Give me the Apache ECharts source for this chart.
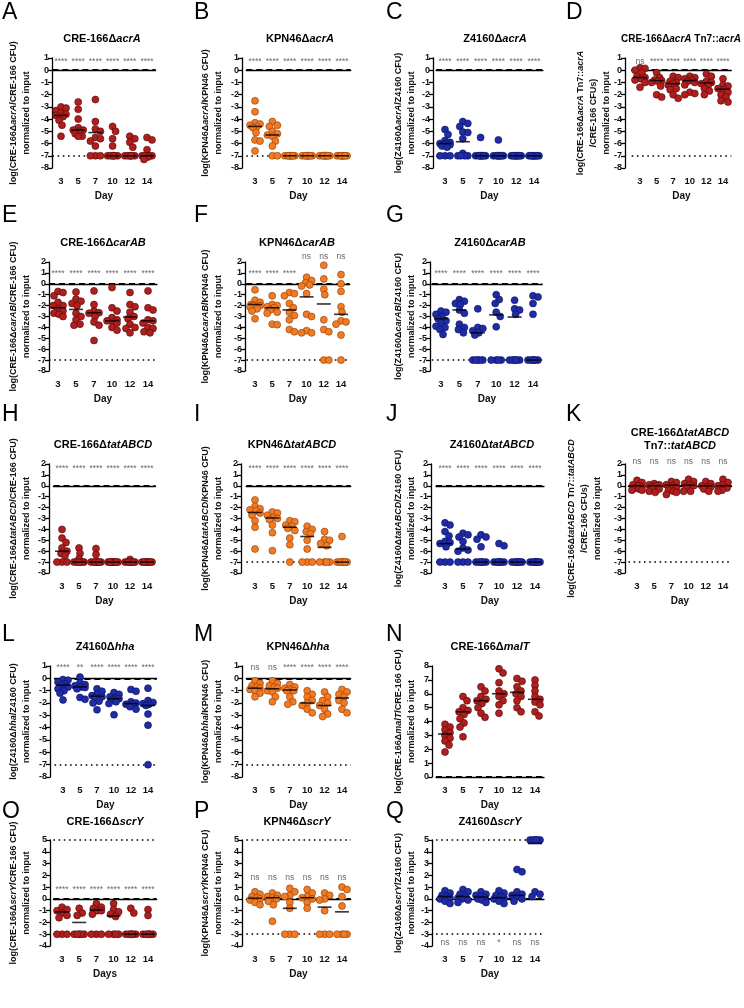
<!DOCTYPE html>
<html><head><meta charset="utf-8">
<script src="https://cdn.jsdelivr.net/npm/echarts@6/dist/echarts.min.js"></script>
<style>html,body{margin:0;padding:0;background:#fff}#c{width:744px;height:1008px}</style>
</head><body><div id="c"></div>
<script>
const DAYS = ['3','5','7','10','12','14'];

// ---- data (log ratios per day) ----
const A_values = [
  [-3.0,-3.1,-3.3,-3.5,-3.6,-3.7,-3.8,-4.1,-4.5,-5.4],
  [-2.6,-3.2,-4.0,-4.7,-4.9,-4.9,-5.0,-5.2,-5.4,-5.4],
  [-2.4,-4.2,-4.8,-5.0,-5.5,-5.6,-5.8,-6.2,-7,-7,-7],
  [-4.6,-5.0,-5.6,-6.2,-7,-7,-7,-7,-7,-7],
  [-5.4,-5.6,-5.9,-6.3,-7,-7,-7,-7,-7,-7],
  [-5.5,-5.7,-6.5,-7,-7,-7,-7,-7,-7.1,-7.3]];
const A_lines = [-3.7,-4.9,-5.1,-7,-7,-7];
const A_sig = ['****','****','****','****','****','****'];

const B_values = [
  [-2.5,-3.4,-4.3,-4.4,-4.5,-4.6,-4.7,-5.1,-5.7,-5.8,-6.6],
  [-4.2,-4.5,-4.6,-5.0,-5.2,-5.3,-5.4,-5.8,-6.2,-7,-7],
  [-7,-7,-7,-7,-7,-7,-7,-7],
  [-7,-7,-7,-7,-7,-7,-7,-7],
  [-7,-7,-7,-7,-7,-7,-7,-7],
  [-7,-7,-7,-7,-7,-7,-7,-7]];
const B_lines = [-4.6,-5.3,-7,-7,-7,-7];
const B_sig = ['****','****','****','****','****','****'];

const C_values = [
  [-4.85,-5.25,-5.75,-5.9,-6.0,-6.0,-6.05,-6.1,-6.2,-6.3,-7,-7,-7],
  [-4.2,-4.35,-4.6,-5.05,-5.1,-5.6,-6.8,-7,-7,-7,-7],
  [-5.5,-7,-7,-7,-7,-7,-7,-7,-7],
  [-5.7,-7,-7,-7,-7,-7,-7,-7,-7],
  [-7,-7,-7,-7,-7,-7,-7,-7,-7],
  [-7,-7,-7,-7,-7,-7,-7,-7,-7]];
const C_lines = [-6.0,-5.85,-7,-7,-7,-7];
const C_sig = ['****','****','****','****','****','****'];

const D_values = [
  [0.2,0.15,0.0,-0.2,-0.5,-0.6,-0.7,-0.8,-1.0,-1.4],
  [-0.2,-0.6,-0.8,-0.85,-0.9,-1.0,-1.3,-2.0,-2.2],
  [-0.5,-0.6,-0.9,-1.0,-1.1,-1.2,-1.5,-1.6,-2.0,-2.3],
  [-0.5,-0.6,-0.7,-0.8,-0.9,-1.0,-1.2,-1.8,-1.9,-2.0],
  [-0.3,-0.5,-0.9,-1.0,-1.1,-1.2,-1.5,-1.7,-2.0],
  [-0.7,-1.2,-1.3,-1.5,-1.6,-1.8,-2.0,-2.2,-2.5,-2.6]];
const D_lines = [-0.6,-0.85,-1.1,-0.85,-1.05,-1.55];
const D_sig = ['ns','****','****','****','****','****'];

const E_values = [
  [-0.7,-0.8,-1.1,-1.7,-2.0,-2.0,-2.3,-2.5,-2.7,-2.8,-3.0],
  [-0.75,-1.4,-1.6,-1.8,-2.0,-2.7,-3.0,-3.3,-3.7,-3.8],
  [-0.65,-1.9,-2.5,-2.65,-2.7,-3.0,-3.5,-3.8,-5.2],
  [-0.35,-2.2,-2.5,-3.1,-3.3,-3.4,-3.5,-3.6,-4.0,-4.25],
  [-0.8,-1.9,-2.1,-2.6,-3.0,-3.2,-3.7,-4.0,-4.1,-4.5],
  [-0.65,-2.2,-2.4,-3.3,-3.4,-3.6,-4.0,-4.1,-4.4,-4.5]];
const E_lines = [-2.2,-2.35,-2.65,-3.4,-3.05,-3.4];
const E_sig = ['****','****','****','****','****','****'];

const F_values = [
  [-0.55,-1.5,-1.7,-1.9,-1.95,-2.0,-2.0,-2.1,-2.3,-2.5,-3.2],
  [-1.1,-1.9,-2.0,-2.1,-2.2,-2.4,-2.6,-2.7,-3.7,-3.75],
  [-0.8,-0.9,-1.1,-1.8,-2.2,-2.6,-2.9,-3.3,-4.2,-4.4],
  [0.6,0.3,0.1,-0.1,-0.2,-0.9,-2.8,-3.0,-4.3,-4.5,-4.5],
  [1.7,0.45,-0.5,-1.0,-3.3,-4.2,-4.4,-7,-7],
  [0.85,0.0,-0.7,-2.1,-2.6,-3.4,-3.5,-3.7,-4.7,-7]];
const F_lines = [-1.9,-2.2,-2.4,-1.2,-1.85,-2.8];
const F_sig = ['****','****','****','ns','ns','ns'];

const G_values = [
  [-2.5,-2.6,-2.8,-3.0,-3.2,-3.4,-3.6,-3.9,-4.0,-4.2,-4.65],
  [-1.45,-1.6,-1.8,-1.9,-2.4,-2.7,-3.7,-4.0,-4.2,-4.5],
  [-2.3,-4.0,-4.1,-4.3,-4.5,-4.7,-7,-7,-7,-7,-7],
  [-1.0,-1.45,-1.8,-2.6,-3.0,-3.95,-7,-7,-7,-7],
  [-1.5,-2.3,-2.4,-2.8,-7,-7,-7,-7,-7,-7],
  [-1.1,-1.2,-1.8,-2.8,-7,-7,-7,-7,-7,-7]];
const G_lines = [-3.2,-2.4,-4.5,-2.85,-3.05,-7];
const G_sig = ['****','****','****','****','****','****'];

const H_values = [
  [-4.0,-4.8,-5.2,-5.7,-6.0,-6.2,-6.4,-7,-7,-7],
  [-5.7,-6.2,-6.7,-7,-7,-7,-7,-7,-7],
  [-5.75,-6.3,-7,-7,-7,-7,-7,-7,-7,-7],
  [-7,-7,-7,-7,-7,-7,-7,-7,-7],
  [-6.75,-7,-7,-7,-7,-7,-7,-7,-7],
  [-7,-7,-7,-7,-7,-7,-7,-7,-7]];
const H_lines = [-6.0,-7,-7,-7,-7,-7];
const H_sig = ['****','****','****','****','****','****'];

const I_values = [
  [-1.3,-1.9,-2.1,-2.2,-2.3,-2.5,-2.7,-3.2,-3.8,-5.8],
  [-2.4,-2.5,-2.7,-2.9,-3.0,-3.1,-3.6,-4.3,-5.95],
  [-3.2,-3.3,-3.6,-3.7,-3.9,-4.1,-4.8,-5.4,-7],
  [-3.7,-4.0,-4.2,-4.4,-5.0,-5.8,-7,-7,-7],
  [-4.2,-4.9,-5.0,-5.3,-5.5,-7,-7,-7,-7],
  [-4.65,-7,-7,-7,-7,-7,-7,-7,-7]];
const I_lines = [-2.45,-2.95,-3.8,-4.65,-5.65,-7];
const I_sig = ['****','****','****','****','****','****'];

const J_values = [
  [-3.4,-3.6,-4.2,-4.6,-5.1,-5.2,-5.3,-5.6,-7,-7,-7],
  [-4.35,-4.5,-4.7,-5.1,-5.7,-5.9,-6.0,-7,-7,-7],
  [-4.5,-4.7,-4.9,-5.6,-7,-7,-7,-7,-7,-7],
  [-5.3,-5.5,-7,-7,-7,-7,-7,-7,-7],
  [-7,-7,-7,-7,-7,-7,-7,-7],
  [-7,-7,-7,-7,-7,-7,-7,-7]];
const J_lines = [-5.3,-5.8,-7,-7,-7,-7];
const J_sig = ['****','****','****','****','****','****'];

const K_values = [
  [0.5,0.3,0.1,0.0,-0.1,-0.2,-0.3,-0.4,-0.4],
  [0.2,0.1,0.1,0.0,-0.1,-0.3,-0.5,-0.6],
  [0.4,0.3,0.1,0.0,-0.2,-0.4,-0.5,-0.6,-0.8],
  [0.6,0.4,0.2,0.1,0.0,-0.1,-0.5,-0.5],
  [0.4,0.2,0.0,-0.1,-0.1,-0.3,-0.5],
  [0.6,0.3,0.1,0.0,-0.2,-0.4,-0.5]];
const K_lines = [0,0,0.05,0.05,0,0];
const K_sig = ['ns','ns','ns','ns','ns','ns'];

const L_values = [
  [-0.1,-0.15,-0.3,-0.45,-0.5,-0.7,-0.85,-1.0,-1.2,-1.75],
  [0.1,-0.35,-0.5,-0.6,-0.7,-0.75,-0.85,-1.55,-1.7],
  [-0.85,-1.05,-1.3,-1.4,-1.5,-1.55,-1.85,-2.0,-2.55],
  [-1.15,-1.3,-1.5,-1.6,-1.65,-1.75,-1.9,-2.05,-2.95],
  [-0.9,-1.05,-1.9,-2.0,-2.1,-2.1,-2.3,-2.5],
  [-0.8,-1.8,-1.95,-2.05,-2.1,-2.2,-2.9,-3.8,-7.0]];
const L_lines = [-0.55,-0.7,-1.45,-1.65,-2.05,-2.2];
const L_sig = ['****','**','****','****','****','****'];

const M_values = [
  [-0.2,-0.4,-0.6,-0.7,-0.8,-0.9,-1.0,-1.2,-1.5],
  [-0.2,-0.4,-0.6,-0.7,-0.8,-1.0,-1.1,-1.5,-1.9],
  [-0.5,-0.7,-0.8,-0.9,-1.0,-1.0,-1.5,-1.9,-2.1],
  [-1.0,-1.3,-1.5,-1.8,-2.0,-2.2,-2.5,-2.8],
  [-1.1,-1.5,-1.8,-2.0,-2.2,-2.5,-2.9,-3.1],
  [-0.9,-1.1,-1.3,-1.5,-1.8,-2.0,-2.5,-2.8]];
const M_lines = [-0.8,-0.85,-0.95,-2.0,-2.2,-1.6];
const M_sig = ['ns','ns','****','****','****','****'];

const N_values = [
  [3.8,3.6,3.4,3.2,3.0,2.8,2.6,2.3,1.8],
  [5.8,5.5,5.0,4.8,4.7,4.5,4.2,3.9,3.6,2.9],
  [6.5,6.2,5.8,5.6,5.5,5.3,5.0,4.6,4.3],
  [7.8,7.5,6.8,6.2,6.0,5.8,5.5,5.2,4.6],
  [7.1,6.9,6.5,6.2,6.0,5.8,5.5,5.0,4.7],
  [7.0,6.6,6.2,5.8,5.6,5.4,5.2,4.7,4.4]];
const N_lines = [3.1,4.7,5.5,6.0,6.1,5.6];
const N_sig = [];

const O_values = [
  [-0.7,-0.9,-1.0,-1.2,-1.4,-1.6,-3,-3,-3],
  [-0.8,-1.2,-1.4,-3,-3,-3,-3,-3],
  [-0.4,-0.7,-0.8,-1.0,-1.0,-1.3,-3,-3,-3],
  [-0.4,-0.9,-1.1,-1.3,-1.5,-3,-3,-3,-3],
  [-0.8,-1.2,-3,-3,-3,-3,-3,-3],
  [-0.9,-1.4,-3,-3,-3,-3,-3,-3]];
const O_lines = [-1.1,-2.0,-0.95,-1.45,-3,-3];
const O_sig = ['****','****','****','****','****','****'];

const P_values = [
  [0.6,0.4,0.2,0.1,0.0,-0.1,-0.3,-0.5],
  [0.5,0.3,0.2,0.1,0.0,-0.2,-0.5,-1.9],
  [0.9,0.6,0.3,0.2,-0.3,-0.8,-3,-3,-3],
  [0.8,0.5,0.2,0.1,0.0,-0.3,-0.8],
  [0.5,0.3,0.0,-0.1,-1.0,-3,-3,-3],
  [1.0,0.8,0.2,-0.6,-3,-3,-3,-3]];
const P_lines = [0.05,0.1,-0.8,0.1,-0.7,-1.1];
const P_sig = ['ns','ns','ns','ns','ns','ns'];

const Q_values = [
  [0.7,0.5,0.3,0.2,0.1,0.0,-0.2,-0.4],
  [0.8,0.6,0.4,0.2,0.1,0.0,-0.1,-0.3],
  [0.6,0.4,0.3,0.2,0.1,0.0,-0.1,-0.3],
  [0.7,0.5,0.3,0.2,0.1,0.0,-0.2,-0.4],
  [2.5,2.3,0.6,0.4,0.3,0.2,0.0,-0.2],
  [5,5,5,5,5,5,0.6,0.4,0.2]];
const Q_lines = [0.2,0.2,0.15,0.1,0.3,4.7];
const Q_sig = ['ns','ns','ns','*','ns','ns'];

// ---- layout ----
const RED = '#b01e1e', ORANGE = '#f27a22', BLUE = '#1f2ca6';
const BORDER = {};
BORDER[RED] = '#4d0a0a'; BORDER[ORANGE] = '#8a3e0c'; BORDER[BLUE] = '#0a1060';
const ROWS = [
  {top:58, bot:168, ty:39, ly:1},
  {top:262, bot:371, ty:243, ly:204},
  {top:464, bot:573, ty:445, ly:403},
  {top:666, bot:777, ty:647, ly:623},
  {top:840, bot:946, ty:822, ly:800}];
const YCX = [20, 212, 405, 594];
const LX = [2, 194, 386, 566];
const NORM = 'normalized to input';
const LOW = {dashed:[0], dotted:[-7]};
const SCR = {dashed:[0], dotted:[5,-3]};

const panels = [
 {L:'A',row:0,col:0,c0:61,c5:147,yax:52,tx:102,color:RED,vals:A_values,lines:A_lines,sig:A_sig,sigY:0.7,ymin:-8,ymax:1,ref:LOW,
  title:'CRE-166Δ{i|acrA}', ytl:['log(CRE-166Δ{i|acrA}/CRE-166 CFU)',NORM]},
 {L:'B',row:0,col:1,c0:255,c5:342,yax:242,tx:300,color:ORANGE,vals:B_values,lines:B_lines,sig:B_sig,sigY:0.7,ymin:-8,ymax:1,ref:LOW,
  title:'KPN46Δ{i|acrA}', ytl:['log(KPN46Δ{i|acrA}/KPN46 CFU)',NORM]},
 {L:'C',row:0,col:2,c0:445,c5:534,yax:433,tx:495,color:BLUE,vals:C_values,lines:C_lines,sig:C_sig,sigY:0.7,ymin:-8,ymax:1,ref:LOW,
  title:'Z4160Δ{i|acrA}', ytl:['log(Z4160Δ{i|acrA}/Z4160 CFU)',NORM]},
 {L:'D',row:0,col:3,c0:640,c5:723,yax:625,tx:681,tfs:10,color:RED,vals:D_values,lines:D_lines,sig:D_sig,sigY:0.7,ymin:-8,ymax:1,ref:LOW,
  title:'CRE-166Δ{i|acrA} Tn7::{i|acrA}', ytl:['log(CRE-166Δ{i|acrA} Tn7::{i|acrA}','/CRE-166 CFUs)',NORM]},
 {L:'E',row:1,col:0,c0:58,c5:148,yax:50,tx:103,color:RED,vals:E_values,lines:E_lines,sig:E_sig,sigY:0.95,ymin:-8,ymax:2,ref:LOW,
  title:'CRE-166Δ{i|carAB}', ytl:['log(CRE-166Δ{i|carAB}/CRE-166 CFU)',NORM]},
 {L:'F',row:1,col:1,c0:255,c5:341,yax:245,tx:297,color:ORANGE,vals:F_values,lines:F_lines,sig:F_sig,sigY:[0.95,0.95,0.95,2.5,2.5,2.5],ymin:-8,ymax:2,ref:LOW,
  title:'KPN46Δ{i|carAB}', ytl:['log(KPN46Δ{i|carAB}/KPN46 CFU)',NORM]},
 {L:'G',row:1,col:2,c0:441,c5:533,yax:430,tx:490,color:BLUE,vals:G_values,lines:G_lines,sig:G_sig,sigY:0.95,ymin:-8,ymax:2,ref:LOW,
  title:'Z4160Δ{i|carAB}', ytl:['log(Z4160Δ{i|carAB}/Z4160 CFU)',NORM]},
 {L:'H',row:2,col:0,c0:62,c5:147,yax:49,tx:103,color:RED,vals:H_values,lines:H_lines,sig:H_sig,sigY:1.6,ymin:-8,ymax:2,ref:LOW,
  title:'CRE-166Δ{i|tatABCD}', ytl:['log(CRE-166Δ{i|tatABCD}/CRE-166 CFU)',NORM]},
 {L:'I',row:2,col:1,c0:255,c5:342,yax:241,tx:292,color:ORANGE,vals:I_values,lines:I_lines,sig:I_sig,sigY:1.6,ymin:-8,ymax:2,ref:LOW,
  title:'KPN46Δ{i|tatABCD}', ytl:['log(KPN46Δ{i|tatABCD}/KPN46 CFU)',NORM]},
 {L:'J',row:2,col:2,c0:445,c5:535,yax:431,tx:492,color:BLUE,vals:J_values,lines:J_lines,sig:J_sig,sigY:1.6,ymin:-8,ymax:2,ref:LOW,
  title:'Z4160Δ{i|tatABCD}', ytl:['log(Z4160Δ{i|tatABCD}/Z4160 CFU)',NORM]},
 {L:'K',row:2,col:3,c0:637,c5:723,yax:625,tx:680,ycx:585,color:RED,vals:K_values,lines:K_lines,sig:K_sig,sigY:2.25,ymin:-8,ymax:2,ref:LOW,
  title:'CRE-166Δ{i|tatABCD}\nTn7::{i|tatABCD}', ytl:['log(CRE-166Δ{i|tatABCD} Tn7::{i|tatABCD}','/CRE-166 CFUs)',NORM]},
 {L:'L',row:3,col:0,c0:63,c5:148,yax:50,tx:105,color:BLUE,vals:L_values,lines:L_lines,sig:L_sig,sigY:0.9,ymin:-8,ymax:1,ref:LOW,
  title:'Z4160Δ{i|hha}', ytl:['log(Z4160Δ{i|hha}/Z4160 CFU)',NORM]},
 {L:'M',row:3,col:1,c0:255,c5:342,yax:242,tx:298,color:ORANGE,vals:M_values,lines:M_lines,sig:M_sig,sigY:0.9,ymin:-8,ymax:1,ref:LOW,
  title:'KPN46Δ{i|hha}', ytl:['log(KPN46Δ{i|hha}/KPN46 CFU)',NORM]},
 {L:'N',row:3,col:2,c0:445,c5:535,yax:432,tx:490,color:RED,vals:N_values,lines:N_lines,sig:N_sig,sigY:0,ymin:0,ymax:8,ref:{dashed:[0],dotted:[]},
  title:'CRE-166Δ{i|malT}', ytl:['log(CRE-166Δ{i|malT}/CRE-166 CFU)',NORM]},
 {L:'O',row:4,col:0,c0:62,c5:148,yax:50,tx:105,color:RED,vals:O_values,lines:O_lines,sig:O_sig,sigY:0.8,ymin:-4,ymax:5,ref:SCR,xname:'Days',
  title:'CRE-166Δ{i|scrY}', ytl:['log(CRE-166Δ{i|scrY}/CRE-166 CFU)',NORM]},
 {L:'P',row:4,col:1,c0:255,c5:342,yax:242,tx:297,color:ORANGE,vals:P_values,lines:P_lines,sig:P_sig,sigY:1.8,ymin:-4,ymax:5,ref:SCR,
  title:'KPN46Δ{i|scrY}', ytl:['log(KPN46Δ{i|scrY}/KPN46 CFU)',NORM]},
 {L:'Q',row:4,col:2,c0:445,c5:535,yax:432,tx:490,color:BLUE,vals:Q_values,lines:Q_lines,sig:Q_sig,sigY:-3.75,ymin:-4,ymax:5,ref:SCR,
  title:'Z4160Δ{i|scrY}', ytl:['log(Z4160Δ{i|scrY}/Z4160 CFU)',NORM]}
];

// beeswarm offsets (pixels) so overlapping points spread sideways
function swarm(vals, ppu, maxOff, dist) {
  const order = vals.map((v,i)=>i).sort((a,b)=>vals[b]-vals[a]);
  const placed = [], off = new Array(vals.length);
  const cands = [0];
  for (let k=1;k<=maxOff;k++){ cands.push(k); cands.push(-k); }
  order.forEach(i=>{
    const y = vals[i]*ppu;
    let best = 0, bestD = -1;
    for (const c of cands) {
      let md = Infinity;
      for (const p of placed) { const d = Math.hypot(p.x-c, p.y-y); if (d<md) md=d; }
      if (md >= dist) { best = c; bestD = md; break; }
      if (md > bestD) { bestD = md; best = c; }
    }
    off[i] = best; placed.push({x:best, y});
  });
  return off;
}

const FONT = '"Liberation Sans", Arial, sans-serif';
const grids=[], xAxes=[], yAxes=[], series=[], graphics=[];

panels.forEach((p, gi) => {
  const r = ROWS[p.row];
  const s = (p.c5 - p.c0)/5;
  const left = p.c0 - s/2, width = s*6;
  const top = r.top, height = r.bot - r.top;
  grids.push({left, top, width, height, containLabel:false});
  xAxes.push({type:'category', gridIndex:gi, data:DAYS, boundaryGap:true, offset:4,
    axisLine:{lineStyle:{color:'#000', width:1.3}},
    axisTick:{alignWithLabel:true, length:4, lineStyle:{color:'#000', width:1.3}},
    axisLabel:{interval:0, fontSize:9.5, fontWeight:'bold', color:'#111', margin:4, fontFamily:FONT},
    name:p.xname || 'Day', nameLocation:'middle', nameGap:19,
    nameTextStyle:{fontSize:10, fontWeight:'bold', color:'#111', fontFamily:FONT}});
  yAxes.push({type:'value', gridIndex:gi, min:p.ymin, max:p.ymax, interval:1,
    offset:Math.max(0, left - p.yax),
    axisLine:{show:true, lineStyle:{color:'#000', width:1.3}},
    axisTick:{show:true, length:4, lineStyle:{color:'#000', width:1.3}},
    axisLabel:{fontSize:9, fontWeight:'bold', color:'#111', margin:3, fontFamily:FONT},
    splitLine:{show:false}});
  const ppu = height/(p.ymax - p.ymin);
  const pts = [];
  p.vals.forEach((arr, ci) => {
    const offs = swarm(arr, ppu, 5, 5.5);
    arr.forEach((v,k) => pts.push({value:[ci, v], symbolOffset:[offs[k], 0]}));
  });
  const ml = [];
  p.ref.dashed.forEach(v => ml.push({yAxis:v, lineStyle:{type:[6,4], width:1.8, color:'#000'}}));
  p.ref.dotted.forEach(v => ml.push({yAxis:v, lineStyle:{type:[1.6,3.6], width:1.6, color:'#000'}}));
  series.push({type:'scatter', xAxisIndex:gi, yAxisIndex:gi, data:pts, symbolSize:7, clip:false, z:3,
    itemStyle:{color:p.color, borderColor:BORDER[p.color], borderWidth:0.6, opacity:1},
    markLine:{silent:true, symbol:'none', label:{show:false}, animation:false, data:ml, z:2}});
  series.push({type:'scatter', xAxisIndex:gi, yAxisIndex:gi, data:p.lines.map((v,i)=>[i,v]),
    symbol:'rect', symbolSize:[14,1.6], itemStyle:{color:'#000'}, z:4, clip:false});
  if (p.sig.length) {
    series.push({type:'scatter', xAxisIndex:gi, yAxisIndex:gi, clip:false, z:5,
      data:p.sig.map((t,i)=>({value:[i, Array.isArray(p.sigY)?p.sigY[i]:p.sigY], name:t})),
      symbolSize:1, itemStyle:{color:'rgba(0,0,0,0)'},
      label:{show:true, position:'inside', formatter:'{b}', fontSize:8.5, color:'#444', fontFamily:FONT}});
  }
  graphics.push({type:'text', x:LX[p.col], y:r.ly, silent:true,
    style:{text:p.L, fontSize:23, fontFamily:FONT, fill:'#000', align:'left', verticalAlign:'top'}});
  const tfs = p.tfs || 11;
  graphics.push({type:'text', x:p.tx, y:r.ty - (p.L==='K'?6:0), silent:true,
    style:{text:p.title, fontSize:tfs, fontWeight:'bold', fontFamily:FONT, fill:'#000', align:'center', verticalAlign:'middle', lineHeight:13,
      rich:{i:{fontSize:tfs, fontWeight:'bold', fontStyle:'italic', fontFamily:FONT, fill:'#000', lineHeight:13}}}});
  graphics.push({type:'text', x:(p.ycx || YCX[p.col]), y:top + height/2, rotation:Math.PI/2, silent:true,
    style:{text:p.ytl.join('\n'), fontSize:9, fontWeight:'bold', fontFamily:FONT, fill:'#111', align:'center', verticalAlign:'middle', lineHeight:13,
      rich:{i:{fontSize:9, fontWeight:'bold', fontStyle:'italic', fontFamily:FONT, fill:'#111', lineHeight:13}}}});
});

const chart = echarts.init(document.getElementById('c'), null, {renderer:'canvas'});
chart.setOption({animation:false, backgroundColor:'#fff', grid:grids, xAxis:xAxes, yAxis:yAxes, series, graphic:graphics});
</script>
</body></html>
